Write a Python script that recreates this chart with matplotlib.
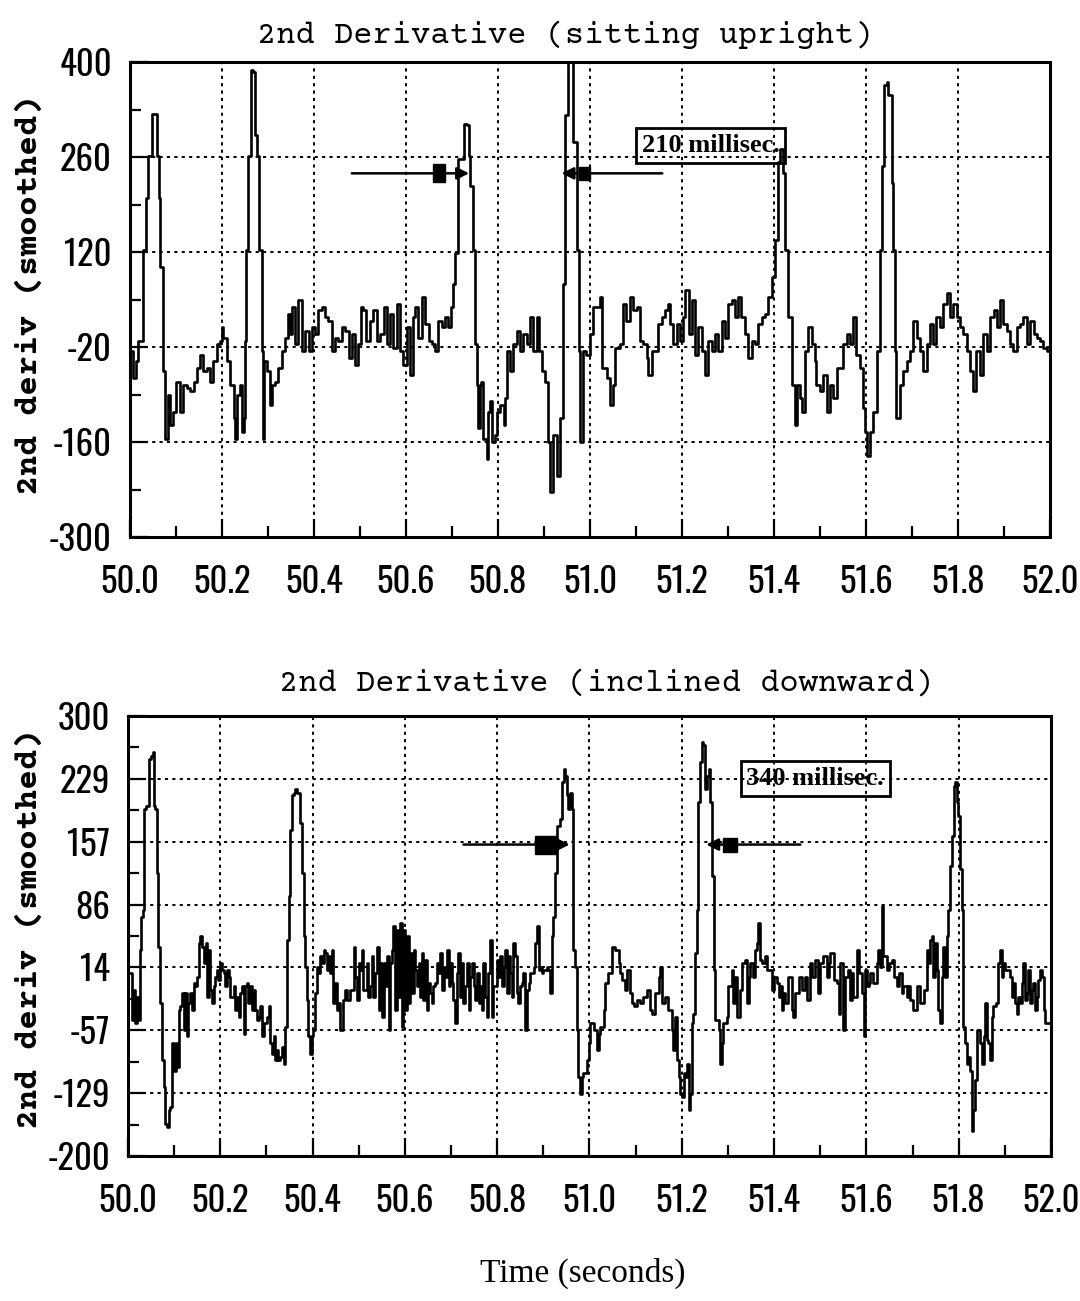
import numpy as np
import matplotlib
matplotlib.use("Agg")
import matplotlib.pyplot as plt
from matplotlib.patches import Rectangle
from matplotlib import font_manager

# ---------------- data ----------------
# time offsets in milliseconds after 50.0 s, and smoothed 2nd-derivative values
top_ms = [0, 6, 12, 18, 25, 29, 35, 40, 47, 54, 58, 62, 65, 71, 75, 80, 83, 87, 94, 101,
          109, 116, 123, 130, 138, 145, 152, 159, 167, 174, 181, 188, 196, 199, 203, 210, 217, 225, 228, 232,
          238, 243, 248, 250, 252, 257, 262, 267, 272, 275, 281, 286, 290, 291, 297, 304, 308, 315, 322, 330,
          337, 344, 348, 351, 359, 366, 373, 380, 388, 395, 402, 409, 417, 424, 431, 438, 446, 453, 460, 467,
          475, 482, 489, 496, 501, 507, 514, 522, 529, 536, 543, 551, 558, 565, 572, 580, 587, 594, 601, 609,
          616, 620, 627, 634, 641, 649, 656, 663, 670, 678, 685, 692, 698, 703, 707, 714, 725, 732, 736, 739,
          745, 750, 754, 757, 761, 764, 768, 775, 779, 783, 786, 793, 797, 804, 812, 815, 819, 826, 833, 841,
          848, 855, 862, 870, 877, 884, 888, 895, 902, 909, 913, 920, 928, 935, 942, 946, 953, 960, 964, 971,
          975, 978, 985, 992, 1000, 1007, 1021, 1025, 1036, 1043, 1050, 1054, 1065, 1072, 1079, 1087, 1094, 1101, 1108, 1116,
          1123, 1127, 1134, 1141, 1148, 1156, 1163, 1170, 1174, 1181, 1188, 1195, 1203, 1206, 1214, 1221, 1228, 1235, 1243, 1250,
          1257, 1264, 1271, 1279, 1286, 1293, 1300, 1308, 1315, 1322, 1329, 1337, 1344, 1351, 1358, 1366, 1373, 1380, 1387, 1395,
          1402, 1409, 1413, 1420, 1424, 1431, 1438, 1445, 1449, 1456, 1460, 1467, 1474, 1482, 1489, 1492, 1500, 1507, 1514, 1521,
          1529, 1536, 1543, 1550, 1558, 1565, 1572, 1579, 1587, 1594, 1598, 1601, 1608, 1616, 1623, 1630, 1634, 1639, 1645, 1648,
          1656, 1659, 1663, 1666, 1674, 1681, 1688, 1695, 1703, 1710, 1717, 1724, 1732, 1739, 1746, 1753, 1761, 1768, 1775, 1782,
          1790, 1797, 1804, 1811, 1819, 1826, 1833, 1840, 1848, 1855, 1862, 1869, 1877, 1884, 1891, 1898, 1906, 1913, 1920, 1927,
          1935, 1942, 1949, 1956, 1964, 1971, 1978, 1985, 1993, 2000]
top_val = [-26, -66, -40, -11, -11, 123, 200, 262, 324, 324, 262, 200, 98, -56, -155, -155, -90, -135, -115, -71,
           -115, -76, -80, -85, -71, -51, -31, -56, -51, -71, -41, -16, -11, 9, -6, -41, -76, -125, -155, -90,
           -76, -145, -125, -11, 123, 262, 389, 386, 292, 262, 123, -26, -155, -41, -56, -105, -76, -71, -51, -26,
           -6, 29, -1, 39, -16, 49, -26, 4, -26, 9, -1, 34, 39, 24, 19, -26, -6, -11, 9, 4,
           -36, -1, -46, -16, 39, 34, -11, 19, 34, -11, -1, 39, -16, 29, -21, 44, -26, -46, 9, -61,
           24, 39, -6, 54, 14, -11, -16, -26, 19, 9, 24, 9, 39, 73, 118, 257, 309, 307, 262, 217,
           123, -16, -76, -140, -76, -71, -155, -185, -115, -100, -160, -150, -115, -105, -135, -95, -26, -56, -16, 4,
           -26, -1, -16, 24, -26, 24, -26, -56, -71, -160, -234, -150, -210, -125, 73, 322, 400, 400, 282, 123,
           -26, -160, -26, -31, -1, 39, 54, -51, -66, -105, -76, -21, -16, 44, 19, 54, 34, 39, -11, -16,
           -36, -61, -26, -26, 14, 24, 34, 44, 14, -16, 14, -11, 24, 64, -1, 49, -31, 9, -26, -61,
           -11, -26, -1, -26, 19, -6, 44, 49, 24, 54, 24, -1, -36, -11, -16, 14, 24, 29, 54, 83,
           138, 252, 272, 237, 123, 24, -76, -135, -76, -95, -115, -26, 9, -16, -41, -76, -85, -61, -115, -76,
           -95, -51, -51, -16, -1, -16, 24, -31, -51, -110, -145, -180, -145, -115, -26, 123, 247, 366, 371, 351,
           222, 123, -26, -125, -76, -56, -41, -26, 19, -6, -26, -56, -16, 14, -16, 24, 9, 44, 59, 24,
           44, 24, 9, -1, -26, -56, -85, -26, -61, -1, -26, 24, 34, 9, 49, 14, 4, -16, -26, 9,
           14, 24, -16, 19, -1, -6, -11, -21, -26, -16]

bot_ms = [0, 5, 9, 12, 16, 19, 23, 25, 28, 32, 35, 40, 45, 50, 54, 56, 59, 63, 66, 70,
          74, 77, 81, 84, 88, 92, 95, 99, 103, 106, 110, 113, 117, 121, 124, 128, 131, 135, 139, 142,
          146, 149, 153, 157, 160, 164, 168, 171, 175, 178, 182, 186, 189, 193, 196, 200, 204, 207, 211, 214,
          218, 222, 229, 232, 236, 240, 243, 247, 251, 254, 258, 261, 265, 269, 272, 276, 279, 283, 287, 290,
          294, 301, 305, 308, 312, 316, 319, 323, 326, 330, 334, 337, 341, 344, 348, 352, 355, 359, 362, 366,
          370, 373, 377, 381, 384, 388, 391, 395, 399, 402, 406, 409, 413, 417, 420, 424, 427, 431, 435, 438,
          442, 445, 449, 453, 456, 460, 467, 471, 474, 482, 489, 492, 496, 500, 503, 507, 510, 518, 521, 525,
          529, 532, 536, 539, 543, 547, 550, 554, 557, 561, 565, 568, 572, 575, 579, 583, 586, 590, 594, 597,
          601, 604, 608, 612, 615, 619, 622, 626, 630, 633, 637, 640, 644, 648, 651, 655, 658, 662, 666, 669,
          673, 677, 680, 684, 687, 691, 695, 698, 702, 705, 709, 713, 716, 720, 723, 727, 731, 734, 738, 742,
          745, 749, 752, 756, 760, 763, 767, 770, 774, 778, 781, 785, 788, 792, 799, 803, 807, 810, 814, 817,
          821, 825, 828, 832, 835, 839, 843, 846, 850, 853, 857, 861, 864, 868, 871, 879, 882, 886, 890, 893,
          897, 900, 908, 911, 915, 918, 922, 926, 929, 933, 936, 940, 944, 947, 951, 954, 958, 962, 965, 969,
          973, 976, 980, 983, 987, 994, 998, 1002, 1009, 1016, 1020, 1023, 1031, 1034, 1041, 1049, 1056, 1063, 1067, 1070,
          1077, 1081, 1088, 1092, 1096, 1103, 1110, 1117, 1124, 1132, 1135, 1142, 1150, 1153, 1157, 1164, 1171, 1179, 1182, 1186,
          1189, 1193, 1197, 1200, 1204, 1207, 1211, 1215, 1218, 1222, 1225, 1229, 1233, 1236, 1240, 1244, 1247, 1251, 1254, 1258,
          1262, 1265, 1269, 1272, 1280, 1283, 1287, 1290, 1298, 1301, 1309, 1312, 1316, 1319, 1327, 1330, 1337, 1341, 1345, 1348,
          1355, 1359, 1363, 1366, 1370, 1373, 1381, 1384, 1392, 1395, 1399, 1406, 1410, 1413, 1417, 1420, 1424, 1431, 1438, 1442,
          1446, 1453, 1460, 1467, 1471, 1478, 1482, 1489, 1496, 1500, 1507, 1514, 1518, 1522, 1529, 1536, 1540, 1543, 1550, 1554,
          1561, 1565, 1568, 1572, 1579, 1583, 1590, 1594, 1597, 1601, 1605, 1608, 1615, 1623, 1626, 1630, 1633, 1637, 1644, 1648,
          1655, 1659, 1666, 1670, 1677, 1680, 1688, 1691, 1695, 1702, 1709, 1716, 1724, 1731, 1735, 1738, 1742, 1745, 1749, 1753,
          1756, 1760, 1763, 1767, 1771, 1774, 1778, 1781, 1785, 1789, 1792, 1796, 1799, 1803, 1807, 1810, 1814, 1818, 1821, 1825,
          1828, 1832, 1836, 1839, 1846, 1850, 1854, 1857, 1861, 1864, 1868, 1872, 1875, 1882, 1886, 1890, 1893, 1897, 1901, 1908,
          1911, 1915, 1919, 1922, 1926, 1929, 1933, 1937, 1940, 1944, 1948, 1951, 1955, 1958, 1962, 1966, 1969, 1973, 1976, 1980,
          1984, 1987, 1991, 2000]
bot_val = [8, 8, -45, -11, -49, -19, -45, 34, 72, 80, 194, 198, 251, 255, 259, 198, 194, 122, 38, -26,
           -91, -122, -163, -167, -148, -144, -72, -103, -72, -99, -34, -30, -15, -57, -15, -64, -26, -15, -34, -3,
           -7, 4, 42, 50, 38, 19, 42, -19, 34, -11, -26, -7, 4, 12, 0, 19, 12, 8, -7, 12,
           4, -19, -7, -34, -19, -42, -15, -7, -61, -7, -3, -26, -7, -34, -11, -34, -45, -42, -30, -64,
           -49, -42, -30, -72, -84, -64, -91, -80, -91, -87, -76, -95, -53, 46, 95, 171, 210, 213, 217, 213,
           213, 179, 122, 50, 15, -23, -64, -84, -64, -57, -15, 15, 8, 27, 19, 34, 31, 12, 27, 8,
           34, -26, -3, -34, -26, -57, -23, -11, -23, -11, 38, 4, -23, 19, 12, 34, -11, 19, -19, -7,
           27, -19, 8, 38, -34, 19, -42, 19, -7, 27, -57, 19, 34, 61, -34, 57, -19, 65, -53, 57,
           -34, 50, -26, 31, -15, 34, 12, -7, 19, -19, 31, -23, 23, -34, -3, -15, -26, -7, -3, 19,
           8, 31, -11, 15, 4, 34, -7, 19, -3, -23, -49, 8, 31, -19, 19, -26, -7, 19, -34, 4,
           19, -7, -23, 8, -26, -7, -34, 19, -19, -42, 8, 46, -42, -7, 23, 4, 27, -7, 15, 34,
           -15, 27, 8, -19, 42, 27, -15, -26, -7, -3, 8, -57, -11, -3, 8, 15, 42, 61, 12, 15,
           8, 12, 15, 12, -15, 50, 72, 122, 175, 175, 183, 225, 240, 232, 210, 194, 213, 194, 34, 15,
           -57, -110, -129, -110, -106, -91, -72, -49, -57, -80, -61, -53, -34, -3, 8, 38, 34, 19, 8, 0,
           -11, 12, -15, -26, -30, -23, -26, -19, -11, -34, -38, -15, 4, 15, -26, -19, -34, -57, -80, -42,
           -91, -110, -129, -133, -106, -110, -95, -148, -129, -49, -38, 31, 80, 202, 248, 270, 267, 217, 232, 240,
           202, 118, 12, -45, -57, -95, -72, -49, -42, -7, 12, -26, 4, -42, -11, 19, 23, -26, 4, 19,
           4, 34, 42, 65, 23, 19, 27, 12, 12, -11, 4, -3, -19, -7, -34, -15, -26, 4, -34, -42,
           -15, 4, -11, 4, -23, 19, 4, 23, -15, 19, 27, 4, 19, 31, 0, -3, -38, 19, -57, 4,
           12, -23, 8, -19, 34, 8, -15, -64, 12, -7, -3, 8, -3, 19, 34, 15, 84, 27, 12, 19,
           23, 4, -7, 8, -15, -7, -19, -7, -23, -34, -7, -26, -11, 34, 19, 46, 50, 4, 42, 12,
           -34, -49, 4, 38, 4, 50, 80, 130, 164, 221, 225, 202, 187, 126, 80, -53, -72, -95, -87, -103,
           -171, -148, -114, -57, -72, -95, -64, -26, -68, -72, -91, -42, -30, -26, 19, 34, 4, 19, 12, 12,
           4, -19, -3, -26, -38, -19, -26, -3, 19, -23, -15, 12, -26, -11, -3, -34, -19, 0, 12, 4,
           -34, -49, -49, -45]

top_ylim = [-300, 400]
bot_ylim = [-200, 300]
top_tick_labels = ["-300", "-160", "-20", "120", "260", "400"]
bot_tick_labels = ["-200", "-129", "-57", "14", "86", "157", "229", "300"]
x_tick_labels = ["50.0", "50.2", "50.4", "50.6", "50.8", "51.0", "51.2", "51.4", "51.6", "51.8", "52.0"]
titles = ["2nd Derivative (sitting upright)", "2nd Derivative (inclined downward)"]
ylabel_text = "2nd deriv (smoothed)"
xlabel_text = "Time (seconds)"
notes = ["210 millisec.", "340 millisec."]

# ---------------- fonts ----------------
avail = {f.name for f in font_manager.fontManager.ttflist}


def pick(cands):
    for c in cands:
        if c in avail:
            return c
    return "DejaVu Sans"


narrow = pick(["Oswald", "Roboto Condensed", "Archivo Narrow", "PT Sans Narrow",
               "Liberation Sans Narrow", "DejaVu Sans"])
mono = pick(["Courier Prime", "Cutive Mono", "Nimbus Mono PS", "Anonymous Pro", "DejaVu Sans Mono"])
serif = pick(["Liberation Serif", "DejaVu Serif"])
tick_size = 25 if narrow in ("Oswald", "Roboto Condensed", "Archivo Narrow", "PT Sans Narrow") else 18

fig = plt.figure(figsize=(10.8, 13.01), dpi=100)
ax1 = fig.add_axes([0.1204, 0.5872, 0.8519, 0.3651])
ax2 = fig.add_axes([0.1185, 0.1114, 0.8546, 0.3382])

grid_style = dict(color="black", linestyle=(0, (1.6, 2.2)), linewidth=1.4)


def setup(ax, ms, vals, ylim, nticks, ylabels):
    t = 50.0 + np.asarray(ms, dtype=float) / 1000.0
    ax.step(t, vals, where="post", color="black", lw=1.9, zorder=3)
    ax.set_xlim(50.0, 52.0)
    ax.set_ylim(*ylim)
    yt = np.linspace(ylim[0], ylim[1], nticks)
    ax.set_yticks(yt)
    ax.set_yticklabels(ylabels)
    ax.set_yticks((yt[:-1] + yt[1:]) / 2, minor=True)
    xt = np.linspace(50.0, 52.0, 11)
    ax.set_xticks(xt)
    ax.set_xticklabels(x_tick_labels)
    ax.set_xticks(np.linspace(50.1, 51.9, 10), minor=True)
    for g in yt[1:-1]:
        ax.axhline(g, zorder=1, **grid_style)
    for g in xt[1:-1]:
        ax.axvline(g, zorder=1, **grid_style)
    ax.tick_params(which="major", direction="in", length=13, width=1.6,
                   top=False, right=False, pad=13)
    ax.tick_params(which="minor", direction="in", length=8, width=1.6,
                   top=False, right=False)
    ax.tick_params(axis="x", which="major", pad=20)
    for lab in ax.get_xticklabels() + ax.get_yticklabels():
        lab.set_family(narrow)
        lab.set_fontweight("bold")
        lab.set_fontsize(tick_size)
    for s in ax.spines.values():
        s.set_linewidth(2.2)


setup(ax1, top_ms, top_val, top_ylim, 6, top_tick_labels)
setup(ax2, bot_ms, bot_val, bot_ylim, 8, bot_tick_labels)

ax1.text(0.473, 1.057, titles[0], transform=ax1.transAxes, ha="center", va="center",
         family=mono, fontsize=23)
ax2.text(0.518, 1.075, titles[1], transform=ax2.transAxes, ha="center", va="center",
         family=mono, fontsize=23)

fig.text(30 / 1080, 1 - 295 / 1301, ylabel_text, rotation=90, ha="center", va="center",
         family=mono, fontweight="bold", fontsize=24)
fig.text(30 / 1080, 1 - 929 / 1301, ylabel_text, rotation=90, ha="center", va="center",
         family=mono, fontweight="bold", fontsize=24)
fig.text(583 / 1080, 1 - 1273 / 1301, xlabel_text, ha="center", va="center",
         family=serif, fontsize=24)

arrow_kw = dict(arrowstyle="-|>", color="black", lw=1.8, mutation_scale=18,
                shrinkA=0, shrinkB=0)

# top panel annotations
ax1.annotate("", xy=(50.737, 236), xytext=(50.482, 236), arrowprops=arrow_kw, zorder=4)
ax1.add_patch(Rectangle((50.659, 223), 0.026, 27, color="black", zorder=4))
ax1.annotate("", xy=(50.938, 236), xytext=(51.157, 236), arrowprops=arrow_kw, zorder=4)
ax1.add_patch(Rectangle((50.975, 226), 0.025, 20, color="black", zorder=4))
ax1.text(51.262, 277, notes[0], ha="center", va="center", family=serif, fontsize=19,
         fontweight="bold",
         bbox=dict(boxstyle="square,pad=0.22", fc="none", ec="black", lw=2), zorder=5)

# bottom panel annotations
ax2.annotate("", xy=(50.957, 154), xytext=(50.727, 154), arrowprops=arrow_kw, zorder=4)
ax2.add_patch(Rectangle((50.883, 143), 0.047, 21, color="black", zorder=4))
ax2.annotate("", xy=(51.253, 154), xytext=(51.457, 154), arrowprops=arrow_kw, zorder=4)
ax2.add_patch(Rectangle((51.29, 146), 0.03, 16, color="black", zorder=4))
ax2.text(51.489, 229, notes[1], ha="center", va="center", family=serif, fontsize=19,
         fontweight="bold",
         bbox=dict(boxstyle="square,pad=0.22", fc="none", ec="black", lw=2), zorder=5)

fig.savefig("out.png", dpi=100, facecolor="white")
